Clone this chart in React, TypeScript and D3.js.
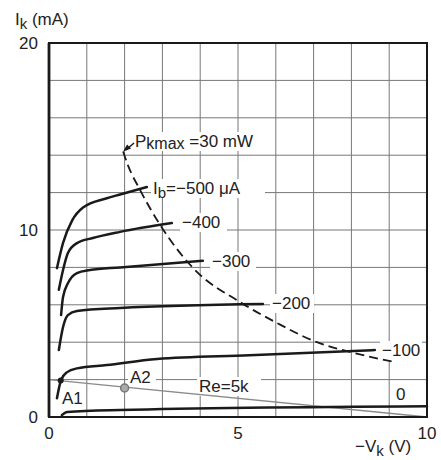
import React from "react";
import * as d3 from "d3";

// Output characteristics: [ -Vk (V), Ik (mA) ]
const ib500: [number, number][] = [[0.21, 7.96], [0.37, 9.3], [0.61, 10.5], [0.9, 11.2], [1.53, 11.7], [1.88, 11.9], [2.59, 12.3]];
const ib400: [number, number][] = [[0.26, 6.8], [0.37, 7.85], [0.5, 8.77], [0.74, 9.3], [1.16, 9.57], [1.88, 9.9], [3.25, 10.37]];
const ib300: [number, number][] = [[0.32, 5.45], [0.37, 6.4], [0.5, 7.15], [0.74, 7.7], [1.08, 7.86], [1.88, 8.0], [4.07, 8.35]];
const ib200: [number, number][] = [[0.26, 3.58], [0.37, 4.8], [0.5, 5.45], [0.74, 5.67], [1.88, 5.83], [5.66, 6.04]];
const ib100: [number, number][] = [[0.21, 1.0], [0.32, 1.98], [0.48, 2.4], [0.74, 2.6], [1.53, 2.78], [2.86, 3.1], [5.3, 3.3], [8.62, 3.58]];
const ib0: [number, number][] = [[0.34, 0.1], [0.48, 0.27], [1.88, 0.37], [10, 0.57]];
const pkmax: [number, number][] = [[1.96, 14.2], [2.1, 13.4], [2.38, 12.25], [2.94, 10.27], [3.81, 7.97], [5.05, 6.15], [6.03, 5.03], [7.09, 4.0], [7.96, 3.48], [9.15, 2.94]];
const loadLine: [number, number][] = [[0, 2], [10, 0]];
const pointA1: [number, number] = [0.31, 1.95];
const pointA2: [number, number] = [2.0, 1.55];

const xTicks = [0, 5, 10];
const yTicks = [0, 10, 20];
const xGrid = d3.range(0, 11, 1);
const yGrid = d3.range(0, 21, 2);

const FONT = "'Liberation Sans', Arial, sans-serif";

export default function App() {
  const x = d3.scaleLinear().domain([0, 10]).range([49, 427]);
  const y = d3.scaleLinear().domain([0, 20]).range([417, 43]);
  const line = d3.line<[number, number]>().x((d) => x(d[0])).y((d) => y(d[1])).curve(d3.curveMonotoneX);
  const straight = d3.line<[number, number]>().x((d) => x(d[0])).y((d) => y(d[1]));
  const curves = [ib500, ib400, ib300, ib200, ib100, ib0];
  const ink = "#1a1a1a";
  const txt = { fontFamily: FONT, fontSize: 17, fill: "#222" } as const;

  const label = (tx: number, ty: number, w: number, content: React.ReactNode) => (
    <g>
      <rect x={tx - 2} y={ty - 15} width={w + 4} height={19} fill="#fff" />
      <text x={tx} y={ty} {...txt}>{content}</text>
    </g>
  );

  return (
    <svg width={441} height={460} style={{ position: "absolute", left: 0, top: 0, background: "#fff" }}>
      <rect width={441} height={460} fill="#fff" />
      {/* grid */}
      {xGrid.map((v) => (
        <line key={"gx" + v} x1={x(v)} x2={x(v)} y1={y(0)} y2={y(20)} stroke="#777" strokeWidth={1} />
      ))}
      {yGrid.map((v) => (
        <line key={"gy" + v} x1={x(0)} x2={x(10)} y1={y(v)} y2={y(v)} stroke="#777" strokeWidth={1} />
      ))}
      {/* labels with white backgrounds */}
      {label(153, 194, 110, <>I<tspan fontSize={15} dy={4}>b</tspan><tspan dy={-4}>=−500 μA</tspan></>)}
      {label(182, 228, 43, "−400")}
      {label(212, 267, 42, "−300")}
      {label(272, 309, 40, "−200")}
      {label(382, 356, 38, "−100")}
      {label(396, 400, 13, "0")}
      {label(62, 404, 21, "A1")}
      {label(130, 383, 24, "A2")}
      {label(199, 392, 60, "Re=5k")}
      {label(135, 147, 113, <>P<tspan fontSize={16} dy={2}>kmax</tspan><tspan dy={-2}> =30 mW</tspan></>)}
      {/* load line */}
      <path d={straight(loadLine) || ""} fill="none" stroke="#8a8a8a" strokeWidth={1.3} />
      {/* curves */}
      {curves.map((c, i) => (
        <path key={"c" + i} d={line(c) || ""} fill="none" stroke={ink} strokeWidth={2.5} strokeLinecap="round" />
      ))}
      {/* Pkmax hyperbola */}
      <path d={line(pkmax) || ""} fill="none" stroke={ink} strokeWidth={1.8} strokeDasharray="9,5" />
      {/* arrow to Pkmax curve */}
      <line x1={134} x2={126} y1={143} y2={150} stroke={ink} strokeWidth={1.5} />
      <path d={`M${x(1.96)},${y(14.2)} l8,-3 l-4,-4 z`} fill={ink} />
      {/* points */}
      <circle cx={x(pointA1[0])} cy={y(pointA1[1])} r={3} fill={ink} />
      <circle cx={x(pointA2[0])} cy={y(pointA2[1])} r={4} fill="#aaa" stroke="#777" strokeWidth={1.5} />
      {/* frame */}
      <rect x={x(0)} y={y(20)} width={x(10) - x(0)} height={y(0) - y(20)} fill="none" stroke={ink} strokeWidth={2} />
      <line x1={x(0)} x2={x(0)} y1={y(0)} y2={y(20)} stroke={ink} strokeWidth={2.8} />
      {/* tick labels */}
      {yTicks.map((v) => (
        <text key={"yt" + v} x={38} y={y(v) + 6} textAnchor="end" {...txt}>{v}</text>
      ))}
      {xTicks.map((v) => (
        <text key={"xt" + v} x={x(v)} y={439} textAnchor="middle" {...txt}>{v}</text>
      ))}
      {/* axis titles */}
      <text x={15} y={25} {...txt}>I<tspan fontSize={15} dy={4}>k</tspan><tspan dy={-4}> (mA)</tspan></text>
      <text x={355} y={452} {...txt}>−V<tspan fontSize={15} dy={4}>k</tspan><tspan dy={-4}> (V)</tspan></text>
    </svg>
  );
}
